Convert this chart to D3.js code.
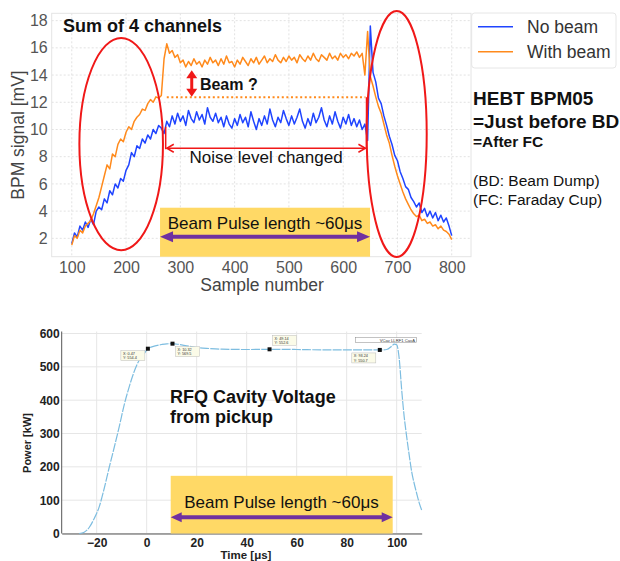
<!DOCTYPE html>
<html>
<head>
<meta charset="utf-8">
<script src="https://cdn.jsdelivr.net/npm/d3@7"></script>
<style>
  body { margin: 0; background: #fff; }
  text { font-family: "Liberation Sans", Arial, sans-serif; }
</style>
</head>
<body>
<div id="chart-area"></div>
<script>
// ---- top chart data: HEBT BPM05, sum of 4 channels ----
var samples = d3.range(100, 801, 5);
var noBeam = [
  1.6, 2.4, 2.1, 2.9, 2.6, 3.2, 2.8, 3.4, 3.0, 4.0,
  4.3, 4.1, 4.9, 4.6, 5.5, 5.2, 6.0, 5.7, 6.4, 6.2,
  7.0, 7.4, 8.3, 8.0, 8.8, 8.6, 9.3, 9.0, 9.6, 9.3,
  10.0, 9.7, 10.3, 10.1, 9.7, 10.6, 10.2, 11.0, 10.4, 11.2,
  10.6, 11.0, 10.3, 11.4, 10.8, 10.5, 11.3, 10.7, 11.1, 10.4,
  11.6, 10.9, 10.6, 11.2, 10.5, 10.9, 10.2, 11.0, 10.4, 10.1,
  10.8, 10.3, 11.1, 10.5, 10.9, 10.2, 11.3, 10.6, 10.0, 10.8,
  10.3, 11.0, 10.4, 11.5, 10.7, 10.2, 10.9, 10.5, 11.4, 10.8,
  10.3, 11.0, 10.4, 10.9, 11.5, 10.6, 10.1, 10.8, 10.3, 11.2,
  10.5, 10.9, 11.6, 10.7, 10.2, 11.0, 10.4, 11.3, 10.6, 10.1,
  10.9, 10.4, 11.1, 10.3, 10.8, 10.2, 10.7, 10.0, 10.4, 9.2,
  17.6, 14.2, 13.5, 12.3, 11.9, 11.0, 10.3, 9.5, 8.9, 8.1,
  7.7, 6.9, 6.4, 5.8, 5.6, 5.0, 4.7, 4.3, 4.6, 3.9,
  4.2, 3.6, 4.0, 3.5, 3.9, 3.3, 3.7, 3.2, 3.5, 2.9,
  2.2
];
var withBeam = [
  1.5, 2.2, 2.0, 2.6, 2.4, 2.9, 3.1, 3.3, 3.8, 4.4,
  5.0, 5.8, 6.6, 7.4, 7.1, 8.2, 8.0, 8.9, 9.3, 9.1,
  9.8, 10.2, 10.0, 10.6, 10.9, 11.1, 11.5, 11.4, 11.9, 12.2,
  12.0, 12.4, 12.3, 12.5, 15.2, 16.3, 15.6, 15.8, 15.3, 15.5,
  14.9, 15.1, 14.6, 15.0, 14.7, 15.2, 14.8, 15.0, 14.6, 15.1,
  14.8, 15.3, 14.9, 15.1, 14.7, 15.2, 14.8, 15.4, 14.9, 15.0,
  14.6, 15.1, 14.8, 15.3, 15.0, 14.7, 15.2, 14.9, 15.3, 14.8,
  15.1, 15.4, 14.9, 15.2, 15.0, 15.5, 15.1, 14.9, 15.3, 15.0,
  15.4, 15.1, 15.3, 14.9, 15.5, 15.2, 15.0, 15.4, 15.1, 15.6,
  15.2, 15.0, 15.5, 15.3, 15.1, 15.6, 15.2, 15.4, 15.1, 15.6,
  15.3, 15.5, 15.2, 15.6, 15.4, 15.7, 15.3, 15.6, 14.0, 17.2,
  13.9, 13.2, 12.4, 11.7, 11.2, 10.4, 9.6, 9.0, 8.1, 7.3,
  6.6, 6.0, 5.4, 4.9, 4.5, 4.1, 3.8, 3.6, 3.7, 3.3,
  3.4, 3.1, 3.2, 2.9, 3.0, 2.7, 2.9, 2.6, 2.5, 2.3,
  1.9
];
var topXTicks = [100, 200, 300, 400, 500, 600, 700, 800];
var topYTicks = [2, 4, 6, 8, 10, 12, 14, 16, 18];
var seriesNames = ["No beam", "With beam"];

// ---- bottom chart data: RFQ cavity voltage from pickup ----
var rfqTime = [-27, -25, -23, -21, -19, -17, -15, -13, -11, -9, -7, -5, -3, -1, 0.47,
  3, 6, 8, 10.32, 13, 16, 20, 25, 30, 40, 49.14, 60, 70, 80, 93.24,
  96, 98, 99, 100, 101, 102, 103, 104, 105, 106, 107, 108, 109, 110];
var rfqPower = [0, 4, 18, 45, 80, 135, 198, 258, 320, 386, 440, 486, 520, 540, 554.4,
  562, 567, 569, 569.5, 567, 563, 558, 555, 553, 552, 552.6, 552, 551, 551, 550.7,
  552, 562, 568, 566, 525, 430, 350, 290, 235, 185, 150, 120, 92, 70];
var tipX = [0.47, 10.32, 49.14, 93.24];
var tipY = [554.4, 569.5, 552.6, 550.7];
var botXTicks = [-20, 0, 20, 40, 60, 80, 100];
var botYTicks = [0, 100, 200, 300, 400, 500, 600];

var blue = "#1f44ff", orange = "#ff8a1c", red = "#f01818", purple = "#7030a0", gold = "#ffd966";

var svg = d3.select("#chart-area").append("svg")
  .attr("width", 620).attr("height", 561)
  .style("background", "#fff");
var defs = svg.append("defs");

// open chevron head for the thin red arrow
defs.append("marker").attr("id", "chev")
  .attr("markerUnits", "userSpaceOnUse")
  .attr("viewBox", "0 0 8 10").attr("refX", 8).attr("refY", 5)
  .attr("markerWidth", 8).attr("markerHeight", 10)
  .attr("orient", "auto-start-reverse")
  .style("overflow", "visible")
  .append("path").attr("d", "M1,1 L8,5 L1,9")
  .attr("fill", "none").attr("stroke", red).attr("stroke-width", 1.5);

// double arrow with filled heads (horizontal or vertical)
function doubleArrow(g, x1, y1, x2, y2, color, width, len, half) {
  var horiz = (y1 === y2);
  var p;
  if (horiz) {
    g.append("line").attr("x1", x1 + len - 1).attr("x2", x2 - len + 1).attr("y1", y1).attr("y2", y1)
      .attr("stroke", color).attr("stroke-width", width);
    p = "M" + x1 + "," + y1 + " L" + (x1 + len) + "," + (y1 - half) + " L" + (x1 + len) + "," + (y1 + half) + "Z" +
        "M" + x2 + "," + y2 + " L" + (x2 - len) + "," + (y2 - half) + " L" + (x2 - len) + "," + (y2 + half) + "Z";
  } else {
    g.append("line").attr("x1", x1).attr("x2", x1).attr("y1", y1 + len - 1).attr("y2", y2 - len + 1)
      .attr("stroke", color).attr("stroke-width", width);
    p = "M" + x1 + "," + y1 + " L" + (x1 - half) + "," + (y1 + len) + " L" + (x1 + half) + "," + (y1 + len) + "Z" +
        "M" + x2 + "," + y2 + " L" + (x2 - half) + "," + (y2 - len) + " L" + (x2 + half) + "," + (y2 - len) + "Z";
  }
  g.append("path").attr("d", p).attr("fill", color);
}

// ================= TOP CHART =================
var xTop = d3.scaleLinear().domain([63, 835.5]).range([51.7, 471]);
var yTop = d3.scaleLinear().domain([0.65, 18.54]).range([256.7, 13.3]);
var gTop = svg.append("g");

// grid
gTop.append("g").selectAll("line").data(topXTicks).enter().append("line")
  .attr("x1", d => xTop(d)).attr("x2", d => xTop(d))
  .attr("y1", yTop.range()[1]).attr("y2", yTop.range()[0])
  .attr("stroke", "#e2e2e2").attr("stroke-dasharray", "2,2");
gTop.append("g").selectAll("line").data(topYTicks).enter().append("line")
  .attr("x1", xTop.range()[0]).attr("x2", xTop.range()[1])
  .attr("y1", d => yTop(d)).attr("y2", d => yTop(d))
  .attr("stroke", "#e2e2e2").attr("stroke-dasharray", "2,2");
gTop.append("rect")
  .attr("x", xTop.range()[0]).attr("y", yTop.range()[1])
  .attr("width", xTop.range()[1] - xTop.range()[0])
  .attr("height", yTop.range()[0] - yTop.range()[1])
  .attr("fill", "none").attr("stroke", "#e4e4e4");

// axes
var axT = gTop.append("g").attr("transform", "translate(0," + yTop.range()[0] + ")")
  .call(d3.axisBottom(xTop).tickValues(topXTicks).tickSize(0).tickPadding(5));
var ayT = gTop.append("g").attr("transform", "translate(" + xTop.range()[0] + ",0)")
  .call(d3.axisLeft(yTop).tickValues(topYTicks).tickSize(0).tickPadding(4));
[axT, ayT].forEach(function (a) {
  a.select(".domain").remove();
  a.selectAll("text").attr("font-size", "16px").attr("fill", "#555");
});

gTop.append("text").attr("x", 262).attr("y", 291).attr("text-anchor", "middle")
  .attr("font-size", "17.5px").attr("fill", "#444").text("Sample number");
gTop.append("text").attr("transform", "translate(24,135) rotate(-90)").attr("text-anchor", "middle")
  .attr("font-size", "17.5px").attr("fill", "#444").text("BPM signal [mV]");

// beam pulse box
gTop.append("rect")
  .attr("x", xTop(262.6)).attr("y", yTop(4.25))
  .attr("width", xTop(649.5) - xTop(262.6)).attr("height", yTop(0.65) - yTop(4.25))
  .attr("fill", gold);

// traces
var lineTop = d3.line().x(d => xTop(d[0])).y(d => yTop(d[1]));
gTop.append("path").datum(d3.zip(samples, noBeam)).attr("d", lineTop)
  .attr("fill", "none").attr("stroke", blue).attr("stroke-width", 1.5).attr("stroke-linejoin", "round");
gTop.append("path").datum(d3.zip(samples, withBeam)).attr("d", lineTop)
  .attr("fill", "none").attr("stroke", orange).attr("stroke-width", 1.5).attr("stroke-linejoin", "round");

// annotations
doubleArrow(gTop, xTop(262.6), yTop(2.12), xTop(649.5), yTop(2.12), purple, 4, 13, 5.5);
gTop.append("text").attr("x", xTop(456)).attr("y", yTop(3.1) + 6).attr("text-anchor", "middle")
  .attr("font-size", "17px").attr("fill", "#111").text("Beam Pulse length ~60μs");

gTop.append("line")
  .attr("x1", xTop(275)).attr("x2", xTop(641)).attr("y1", yTop(12.37)).attr("y2", yTop(12.37))
  .attr("stroke", orange).attr("stroke-width", 2).attr("stroke-dasharray", "2,2.6");

doubleArrow(gTop, xTop(321), yTop(14.35), xTop(321), yTop(12.4), red, 3, 8, 5.5);
gTop.append("text").attr("x", xTop(336)).attr("y", yTop(13.38) + 6)
  .attr("font-size", "16px").attr("font-weight", "bold").attr("fill", "#111").text("Beam ?");

gTop.append("line").attr("x1", xTop(273)).attr("x2", xTop(273)).attr("y1", yTop(10.2)).attr("y2", yTop(8.55))
  .attr("stroke", red).attr("stroke-width", 1.5);
gTop.append("line").attr("x1", xTop(643)).attr("x2", xTop(643)).attr("y1", yTop(12.37)).attr("y2", yTop(8.55))
  .attr("stroke", red).attr("stroke-width", 1.5);
gTop.append("line").attr("x1", xTop(275)).attr("x2", xTop(641)).attr("y1", yTop(8.62)).attr("y2", yTop(8.62))
  .attr("stroke", red).attr("stroke-width", 1.5)
  .attr("marker-start", "url(#chev)").attr("marker-end", "url(#chev)");
gTop.append("text").attr("x", xTop(458)).attr("y", yTop(8.0) + 6).attr("text-anchor", "middle")
  .attr("font-size", "17px").attr("fill", "#111").text("Noise level changed");

gTop.append("text").attr("x", 63).attr("y", 32)
  .attr("font-size", "18px").attr("font-weight", "bold").attr("fill", "#111").text("Sum of 4 channels");

// red ellipses
gTop.append("ellipse").attr("cx", xTop(191)).attr("cy", yTop(8.93))
  .attr("rx", xTop(191 + 77) - xTop(191)).attr("ry", yTop(8.93) - yTop(8.93 + 7.8))
  .attr("fill", "none").attr("stroke", red).attr("stroke-width", 2);
gTop.append("ellipse").attr("cx", xTop(698.6)).attr("cy", yTop(9.67))
  .attr("rx", xTop(698.6 + 55.3) - xTop(698.6)).attr("ry", yTop(9.67) - yTop(9.67 + 9.04))
  .attr("fill", "none").attr("stroke", red).attr("stroke-width", 2);

// legend
var leg = gTop.append("g");
leg.append("rect").attr("x", 471.7).attr("y", 13).attr("width", 144.3).attr("height", 55)
  .attr("rx", 3).attr("fill", "#fff").attr("stroke", "#e6e6e6");
[blue, orange].forEach(function (c, i) {
  leg.append("line").attr("x1", 478).attr("x2", 513).attr("y1", 26.7 + i * 25).attr("y2", 26.7 + i * 25)
    .attr("stroke", c).attr("stroke-width", 1.6);
  leg.append("text").attr("x", 527).attr("y", 26.7 + i * 25 + 6)
    .attr("font-size", "17.5px").attr("fill", "#333").text(seriesNames[i]);
});

// side note
var note = gTop.append("g").attr("fill", "#111");
note.append("text").attr("x", 473).attr("y", 105).attr("font-size", "19px").attr("font-weight", "bold").text("HEBT BPM05");
note.append("text").attr("x", 473).attr("y", 128).attr("font-size", "19px").attr("font-weight", "bold").text("=Just before BD");
note.append("text").attr("x", 473).attr("y", 147).attr("font-size", "15.5px").attr("font-weight", "bold").text("=After FC");
note.append("text").attr("x", 473).attr("y", 186).attr("font-size", "15.5px").text("(BD: Beam Dump)");
note.append("text").attr("x", 473).attr("y", 205).attr("font-size", "15.5px").text("(FC: Faraday Cup)");

// ================= BOTTOM CHART =================
var xBot = d3.scaleLinear().domain([-34, 110]).range([61.7, 421.7]);
var yBot = d3.scaleLinear().domain([0, 600]).range([533.5, 333.5]);
var gBot = svg.append("g");

gBot.append("g").selectAll("line").data(botXTicks).enter().append("line")
  .attr("x1", d => xBot(d)).attr("x2", d => xBot(d))
  .attr("y1", yBot(600) - 2).attr("y2", yBot(0))
  .attr("stroke", "#e6e6e6");
gBot.append("g").selectAll("line").data(botYTicks).enter().append("line")
  .attr("x1", xBot.range()[0]).attr("x2", xBot.range()[1])
  .attr("y1", d => yBot(d)).attr("y2", d => yBot(d))
  .attr("stroke", "#e6e6e6");

var axB = gBot.append("g").attr("transform", "translate(0," + yBot(0) + ")")
  .call(d3.axisBottom(xBot).tickValues(botXTicks).tickSize(0).tickPadding(5));
var ayB = gBot.append("g").attr("transform", "translate(" + xBot.range()[0] + ",0)")
  .call(d3.axisLeft(yBot).tickValues(botYTicks).tickSize(0).tickPadding(2));
[axB, ayB].forEach(function (a) {
  a.select(".domain").attr("stroke", "#555");
  a.selectAll("text").attr("font-size", "12px").attr("font-weight", "bold").attr("fill", "#222");
});
ayB.select(".domain").attr("d", "M0," + (yBot(600) - 2) + "V" + yBot(0));

gBot.append("text").attr("transform", "translate(31,443) rotate(-90)").attr("text-anchor", "middle")
  .attr("font-size", "11px").attr("font-weight", "bold").attr("fill", "#222").text("Power [kW]");
gBot.append("text").attr("x", 246).attr("y", 558.5).attr("text-anchor", "middle")
  .attr("font-size", "11.5px").attr("font-weight", "bold").attr("fill", "#222").text("Time [μs]");

gBot.append("rect")
  .attr("x", xBot(9.6)).attr("y", yBot(173))
  .attr("width", xBot(98.4) - xBot(9.6)).attr("height", yBot(0) - yBot(173))
  .attr("fill", gold);
doubleArrow(gBot, xBot(9.6), yBot(48.6), xBot(98.4), yBot(48.6), purple, 4, 11, 5);
gBot.append("text").attr("x", xBot(53.9)).attr("y", yBot(95.4) + 6).attr("text-anchor", "middle")
  .attr("font-size", "17px").attr("fill", "#111").text("Beam Pulse length ~60μs");

gBot.append("text").attr("x", xBot(9.3)).attr("y", yBot(410) + 6)
  .attr("font-size", "18px").attr("font-weight", "bold").attr("fill", "#111").text("RFQ Cavity Voltage");
gBot.append("text").attr("x", xBot(9.3)).attr("y", yBot(350) + 6)
  .attr("font-size", "18px").attr("font-weight", "bold").attr("fill", "#111").text("from pickup");

var lineBot = d3.line().x(d => xBot(d[0])).y(d => yBot(d[1])).curve(d3.curveMonotoneX);
gBot.append("path").datum(d3.zip(rfqTime, rfqPower)).attr("d", lineBot)
  .attr("fill", "none").attr("stroke", "#7dbde0").attr("stroke-width", 1.2)
  .attr("stroke-dasharray", "9,1.2");

// data tips
var tipOff = [[-27, 2], [3, 3], [3, -14], [-28, 3]];
tipX.forEach(function (tx, i) {
  var px = xBot(tx), py = yBot(tipY[i]);
  var bx = px + tipOff[i][0], by = py + tipOff[i][1];
  gBot.append("rect").attr("x", bx).attr("y", by).attr("width", 24).attr("height", 10)
    .attr("fill", "#fbfbe8").attr("stroke", "#bbb").attr("stroke-width", 0.5);
  gBot.append("text").attr("x", bx + 2).attr("y", by + 4.3).attr("font-size", "3.8px").attr("fill", "#333")
    .text("X: " + tx);
  gBot.append("text").attr("x", bx + 2).attr("y", by + 8.6).attr("font-size", "3.8px").attr("fill", "#333")
    .text("Y: " + tipY[i]);
  gBot.append("rect").attr("x", px - 2).attr("y", py - 2).attr("width", 4).attr("height", 4).attr("fill", "#111");
});

// tiny legend box
gBot.append("rect").attr("x", 355.7).attr("y", 337.5).attr("width", 61).attr("height", 5)
  .attr("fill", "#fff").attr("stroke", "#888").attr("stroke-width", 0.5);
gBot.append("text").attr("x", 415).attr("y", 341.6).attr("text-anchor", "end")
  .attr("font-size", "4.2px").attr("fill", "#333").text("VCav LLRF1 CavA");
</script>
</body>
</html>
